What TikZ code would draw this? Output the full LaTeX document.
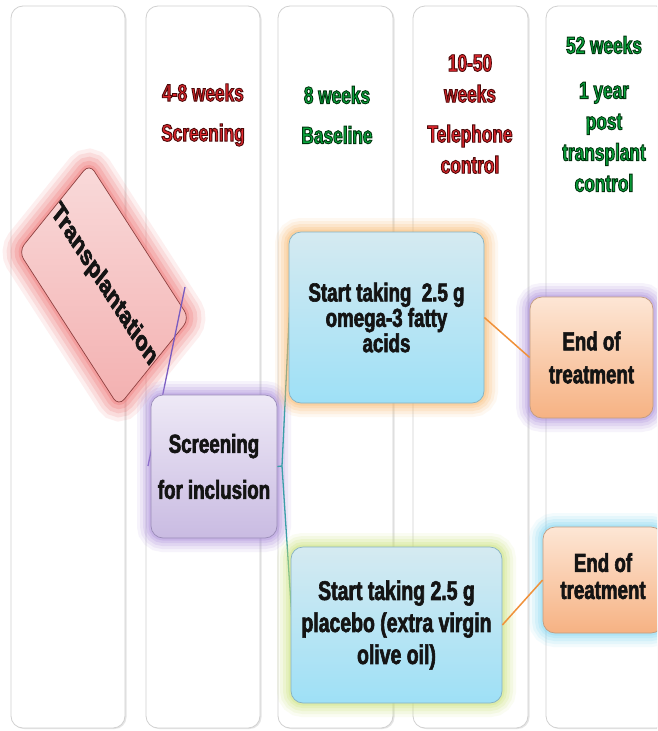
\documentclass[tikz,border=0pt]{standalone}
\usepackage{fontspec}
\setmainfont{Liberation Sans}[FakeStretch=0.72]
\newfontfamily\plainsans{Liberation Sans}
\definecolor{hred}{HTML}{E0282E}
\definecolor{hgreen}{HTML}{0AA83E}
\definecolor{pinkTop}{HTML}{F9DADA}
\definecolor{pinkBot}{HTML}{F3B0B0}
\definecolor{pinkGlow}{HTML}{EE6A6A}
\definecolor{lavTop}{HTML}{EEE9F6}
\definecolor{lavBot}{HTML}{C9BBE2}
\definecolor{lavLine}{HTML}{9A8CB8}
\definecolor{lavGlow}{HTML}{A585D8}
\definecolor{blueTop}{HTML}{D5EAF1}
\definecolor{blueBot}{HTML}{9EE0F6}
\definecolor{blueLine}{HTML}{86B2C2}
\definecolor{orGlow}{HTML}{F9B665}
\definecolor{ygGlow}{HTML}{C8E070}
\definecolor{peachTop}{HTML}{FDE6D5}
\definecolor{peachBot}{HTML}{F6B283}
\definecolor{peachLine}{HTML}{C29C80}
\definecolor{skyGlow}{HTML}{7CD4F2}
\definecolor{purpLine}{HTML}{7A5CC0}
\definecolor{tealLine}{HTML}{3A9FA8}
\definecolor{orLine}{HTML}{F0913A}
% outlined header text and heavier box text (PDF text render mode 2)
\newcommand\redon{\special{pdf:literal direct 2 Tr 0.9 w 0.3 0.03 0.03 RG}}
\newcommand\greenon{\special{pdf:literal direct 2 Tr 0.9 w 0 0.2 0.05 RG}}
\newcommand\heavy{\special{pdf:literal direct 2 Tr 0.6 w 0.08 0.08 0.08 RG}}
\newcommand\outloff{\special{pdf:literal direct 0 Tr}}
\tikzset{
  col/.style={draw=black!18, line width=0.8pt, fill=white, rounded corners=12pt,
    preaction={fill=black!10, transform canvas={xshift=1.5pt, yshift=-1pt}}},
  hdr/.style={font=\fontsize{24}{31}\selectfont\bfseries, align=center, inner sep=0pt},
  box/.style={draw=#1, line width=0.7pt, rounded corners=12pt, align=center, inner sep=0pt, text=black!92},
  glow/.style={preaction={draw=#1, line width=28pt, draw opacity=0.09},
               preaction={draw=#1, line width=22pt, draw opacity=0.12},
               preaction={draw=#1, line width=16pt, draw opacity=0.16},
               preaction={draw=#1, line width=10pt, draw opacity=0.2},
               preaction={draw=#1, line width=5pt, draw opacity=0.26}},
  bigglow/.style={preaction={draw=#1, line width=38pt, draw opacity=0.1},
               preaction={draw=#1, line width=30pt, draw opacity=0.14},
               preaction={draw=#1, line width=22pt, draw opacity=0.18},
               preaction={draw=#1, line width=14pt, draw opacity=0.22},
               preaction={draw=#1, line width=6pt, draw opacity=0.28}},
  purp/.style={draw=purpLine, line width=1.3pt},
  tealc/.style={draw=tealLine, line width=1.3pt},
  orc/.style={draw=orLine, line width=1.5pt},
}
\begin{document}
\begin{tikzpicture}[x=1pt,y=-1pt]
\useasboundingbox (0,0) rectangle (657,731);
\clip (0,0) rectangle (657,731);
\fill[white] (0,0) rectangle (657,731);
% columns
\draw[col] (11,6) rectangle (125,728);
\draw[col] (146,6) rectangle (260,728);
\draw[col] (278,6) rectangle (393,728);
\draw[col] (413,6) rectangle (528,728);
\draw[col] (546,6) rectangle (668,728);
% headers
\node[hdr, text=hred, font=\fontsize{24}{40}\selectfont\bfseries] (h2) at (203,115) {\redon 4-8 weeks\\Screening\outloff};
\node[hdr, text=hgreen, font=\fontsize{24}{40}\selectfont\bfseries] (h3) at (337,115) {\greenon 8 weeks\\Baseline\outloff};
\node[hdr, text=hred] (h4) at (470,114) {\redon 10-50\\weeks\\[9pt]Telephone\\control\outloff};
\node[hdr, text=hgreen] (h5) at (604,114) {\greenon 52 weeks\\[14pt]1 year\\post\\transplant\\control\outloff};
% transplantation (rotated box, stretched vertically like the whole figure)
\begin{scope}[shift={(104,285)}, yscale=1.385]
\node[box=pinkGlow!60!black, bigglow=pinkGlow, top color=pinkTop, bottom color=pinkBot,
  transform shape, rotate=-48.2, minimum width=150pt, minimum height=95pt, rounded corners=9pt,
  font=\plainsans\fontsize{20}{20}\selectfont\bfseries] (trans) at (0,0) {\heavy Transplantation\outloff};
\end{scope}
\coordinate (p1) at (185,287);
\coordinate (p2) at (148,466);
\draw[purp] (p1) -- (p2);
% screening
\node[box=lavLine, glow=lavGlow, top color=lavTop, bottom color=lavBot,
  minimum width=126pt, minimum height=143pt,
  font=\fontsize{26}{46}\selectfont\bfseries] (screen) at (214,466.5) {\heavy Screening\\for inclusion\outloff};
\coordinate (br) at (282,466);
\coordinate (t1) at (290,300);
\coordinate (t2) at (292,620);
\draw[tealc] (screen.east) -- (br);
\draw[tealc] (br) -- (t1);
\draw[tealc] (br) -- (t2);
% treatment boxes
\node[box=blueLine, glow=orGlow, top color=blueTop, bottom color=blueBot,
  minimum width=195pt, minimum height=171pt,
  font=\fontsize{26}{24}\selectfont\bfseries] (omega) at (386.5,317.5) {\heavy Start taking\ \ 2.5 g\\omega-3 fatty\\acids\outloff};
\node[box=blueLine, glow=ygGlow, top color=blueTop, bottom color=blueBot,
  minimum width=211pt, minimum height=156pt,
  font=\fontsize{27}{32}\selectfont\bfseries] (placebo) at (396.5,625) {\heavy Start taking 2.5 g\\placebo (extra virgin\\olive oil)\outloff};
% end boxes
\node[box=peachLine, glow=lavGlow, top color=peachTop, bottom color=peachBot,
  minimum width=123pt, minimum height=121pt,
  font=\fontsize{26}{33}\selectfont\bfseries] (end1) at (591.5,357.5) {\heavy End of\\treatment\outloff};
\node[box=peachLine, glow=skyGlow, top color=peachTop, bottom color=peachBot,
  minimum width=120pt, minimum height=106pt,
  font=\fontsize{26}{27}\selectfont\bfseries] (end2) at (603,580) {\raisebox{3pt}{\heavy\begin{tabular}{@{}c@{}}End of\\treatment\end{tabular}\outloff}};
\draw[orc] (omega.east) -- (end1.west);
\draw[orc] (placebo.east) -- (end2.west);
\end{tikzpicture}
\end{document}
